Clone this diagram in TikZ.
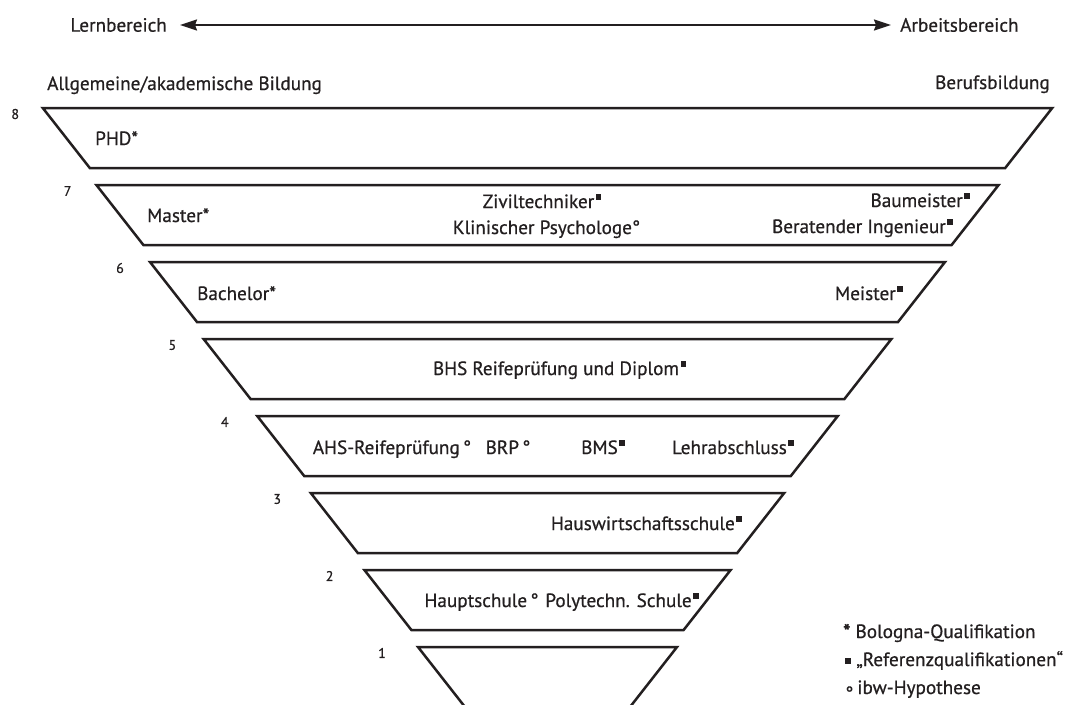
\documentclass[tikz,border=0pt]{standalone}
\usepackage{fontspec}
\setmainfont{PT Sans}[FakeBold=0.6]
\usetikzlibrary{arrows.meta}
\definecolor{ink}{RGB}{35,31,32}
\newcommand\sqm{\hspace{1.5pt}\raisebox{8.5pt}{\rule{5.5pt}{5.5pt}}}
\begin{document}
\begin{tikzpicture}[x=1pt,y=-1pt,
  lbl/.style={inner sep=0pt, font=\fontsize{19.2}{23}\selectfont, text=ink},
  num/.style={inner sep=0pt, font=\fontsize{14}{16}\selectfont, text=ink},
  trap/.style={draw=ink, line width=2.5pt, line join=miter},
  dbl/.style={draw=ink, line width=2pt, {Stealth[length=17pt,width=11pt,inset=2pt]}-{Stealth[length=17pt,width=11pt,inset=2pt]}}
]
\useasboundingbox (0,0) rectangle (1083,704);
\fill[white] (0,0) rectangle (1083,704);

% levels
\foreach \k in {1,...,8}{
  \pgfmathsetmacro\yt{647-(\k-1)*77}
  \pgfmathsetmacro\hw{129.5+(\k-1)*53.6}
  \pgfmathsetmacro\yb{\yt+60}
  \pgfmathsetmacro\nx{547.5-\hw-36+(\k-1)*1.2}
  \draw[trap] (547.5-\hw,\yt) -- (547.5+\hw,\yt) -- (547.5+\hw-47,\yb) -- (547.5-\hw+47,\yb) -- cycle;
  \node[num] (n\k) at (\nx,\yt+6) {\k};
}

% header
\node[lbl, anchor=east] (lern) at (167,25) {Lernbereich};
\node[lbl, anchor=west] (arb) at (900,25) {Arbeitsbereich};
\draw[dbl, shorten <=13pt, shorten >=9pt] (lern.east) -- (arb.west);
\node[lbl, anchor=base west] (allg) at (47,90) {Allgemeine/akademische Bildung};
\node[lbl, anchor=base east] (beruf) at (1050,89) {Berufsbildung};

% level 8
\node[lbl, anchor=base west] (phd) at (95,145) {PHD*};
% level 7
\node[lbl, anchor=base west] (master) at (147,222) {Master*};
\node[lbl, anchor=base] (zivil) at (542,208) {Ziviltechniker\sqm};
\node[lbl, anchor=base] (klin) at (546.5,234) {Klinischer Psychologe°};
\node[lbl, anchor=base east] (bau) at (970,207) {Baumeister\sqm};
\node[lbl, anchor=base east] (ber) at (953,233) {Beratender Ingenieur\sqm};
% level 6
\node[lbl, anchor=base west] (bach) at (197,300) {Bachelor*};
\node[lbl, anchor=base east] (meister) at (903,300) {Meister\sqm};
% level 5
\node[lbl, anchor=base] (bhs) at (559.5,375) {BHS Reifeprüfung und Diplom\sqm};
% level 4
\node[lbl, anchor=base] (ahs) at (392,454) {AHS-Reifeprüfung\,°};
\node[lbl, anchor=base] (brp) at (508,454) {BRP\,°};
\node[lbl, anchor=base] (bms) at (603,454) {BMS\sqm};
\node[lbl, anchor=base east] (lehr) at (794,454) {Lehrabschluss\sqm};
% level 3
\node[lbl, anchor=base east] (haus) at (742,530) {Hauswirtschaftsschule\sqm};
% level 2
\node[lbl, anchor=base] (haupt) at (481.5,607) {Hauptschule\,°};
\node[lbl, anchor=base] (poly) at (622,607) {Polytechn. Schule\sqm};

% legend
\node[lbl, anchor=base west] (lg1) at (843,638) {\textbf{*} Bologna-Qualifikation};
\node[lbl, anchor=base west] (lg2) at (845,666) {\raisebox{2pt}{\rule{6pt}{6pt}} „Referenzqualifikationen“};
\node[lbl, anchor=base west] (lg3) at (845,694) {\raisebox{-6pt}{°}\hspace{4pt}ibw-Hypothese};
\end{tikzpicture}
\end{document}
